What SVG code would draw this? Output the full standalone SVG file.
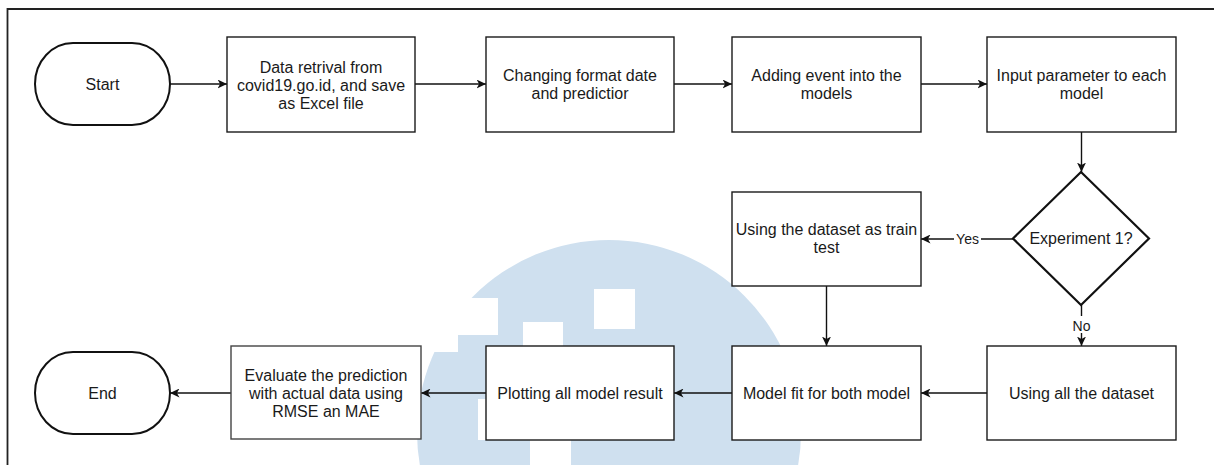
<svg xmlns="http://www.w3.org/2000/svg" width="1214" height="465" viewBox="0 0 1214 465">
  <defs>
    <style>
      .box { fill: #ffffff; stroke: #1a1a1a; stroke-width: 1.4; }
      .term { fill: #ffffff; stroke: #111111; stroke-width: 2; }
      .decision { fill: #ffffff; stroke: #111111; stroke-width: 2.2; }
      .lbl { font-family: "Liberation Sans", Arial, Helvetica, sans-serif; font-size: 16px; fill: #1a1a1a; text-anchor: middle; }
      .edge-lbl { font-family: "Liberation Sans", Arial, Helvetica, sans-serif; font-size: 14px; fill: #1a1a1a; text-anchor: middle; }
      .wire { fill: none; stroke: #111111; stroke-width: 1.4; marker-end: url(#arrow); }
      .frame { fill: none; stroke: #222222; stroke-width: 1.8; }
    </style>
    <marker id="arrow" markerUnits="userSpaceOnUse" markerWidth="10" markerHeight="9" refX="9.5" refY="4.5" orient="auto">
      <path d="M0,0 L9.5,4.5 L0,9 L2.6,4.5 Z" fill="#111111"/>
    </marker>
  </defs>

  <rect width="1214" height="465" fill="#ffffff"/>

  <!-- faint logo mark in the background -->
  <g id="logo-mark">
    <circle cx="609" cy="432" r="192" fill="#cfe0ef"/>
    <g fill="#ffffff">
      <rect x="420" y="298" width="78" height="37"/>
      <rect x="420" y="330" width="38" height="22"/>
      <rect x="523" y="322" width="40" height="60"/>
      <rect x="594" y="289" width="41" height="40"/>
      <rect x="478" y="399" width="40" height="41"/>
      <rect x="530" y="420" width="41" height="45"/>
    </g>
  </g>

  <!-- page frame -->
  <path class="frame" d="M7.5,465 L7.5,9 L1214,9"/>

  <!-- connectors -->
  <g id="connectors">
    <line class="wire" x1="170" y1="84" x2="227" y2="84"/>
    <line class="wire" x1="415" y1="84" x2="486" y2="84"/>
    <line class="wire" x1="674" y1="84" x2="732" y2="84"/>
    <line class="wire" x1="921" y1="84" x2="987" y2="84"/>
    <line class="wire" x1="1081.5" y1="132" x2="1081.5" y2="172"/>
    <line class="wire" x1="1013" y1="239" x2="921" y2="239"/>
    <line class="wire" x1="1081.5" y1="305" x2="1081.5" y2="346"/>
    <line class="wire" x1="826.5" y1="286" x2="826.5" y2="346"/>
    <line class="wire" x1="987" y1="393" x2="921" y2="393"/>
    <line class="wire" x1="732" y1="393" x2="674" y2="393"/>
    <line class="wire" x1="486" y1="393" x2="421" y2="393"/>
    <line class="wire" x1="231" y1="393" x2="170" y2="393"/>
    <!-- edge labels -->
    <rect x="954" y="231" width="27" height="16" fill="#ffffff"/>
    <text class="edge-lbl" x="967.5" y="244">Yes</text>
    <rect x="1070" y="316" width="23" height="17" fill="#ffffff"/>
    <text class="edge-lbl" x="1081.5" y="331">No</text>
  </g>

  <g id="start">
    <rect class="term" x="35" y="43" width="135" height="82" rx="38" ry="41"/>
    <text class="lbl" x="102.5" y="90">Start</text>
  </g>

  <g id="data-retrieval">
    <rect class="box" x="227" y="37" width="188" height="95"/>
    <text class="lbl" x="321" y="72.5">Data retrival from</text>
    <text class="lbl" x="321" y="90.5">covid19.go.id, and save</text>
    <text class="lbl" x="321" y="108.5">as Excel file</text>
  </g>

  <g id="change-format">
    <rect class="box" x="486" y="37" width="188" height="95"/>
    <text class="lbl" x="580" y="80.5">Changing format date</text>
    <text class="lbl" x="580" y="98.5">and predictior</text>
  </g>

  <g id="add-event">
    <rect class="box" x="732" y="37" width="189" height="95"/>
    <text class="lbl" x="826.5" y="80.5">Adding event into the</text>
    <text class="lbl" x="826.5" y="98.5">models</text>
  </g>

  <g id="input-params">
    <rect class="box" x="987" y="37" width="189" height="95"/>
    <text class="lbl" x="1081.5" y="80.5">Input parameter to each</text>
    <text class="lbl" x="1081.5" y="98.5">model</text>
  </g>

  <g id="experiment-1">
    <polygon class="decision" points="1081,172 1149,238.5 1081,305 1013,238.5"/>
    <text class="lbl" x="1081" y="244">Experiment 1?</text>
  </g>

  <g id="train-test">
    <rect class="box" x="732" y="192" width="189" height="94"/>
    <text class="lbl" x="826.5" y="234.5">Using the dataset as train</text>
    <text class="lbl" x="826.5" y="252.5">test</text>
  </g>

  <g id="all-dataset">
    <rect class="box" x="987" y="346" width="189" height="94"/>
    <text class="lbl" x="1081.5" y="398.5">Using all the dataset</text>
  </g>

  <g id="model-fit">
    <rect class="box" x="732" y="346" width="189" height="94"/>
    <text class="lbl" x="826.5" y="398.5">Model fit for both model</text>
  </g>

  <g id="plotting">
    <rect class="box" x="486" y="346" width="188" height="94"/>
    <text class="lbl" x="580" y="398.5">Plotting all model result</text>
  </g>

  <g id="evaluate">
    <rect class="box" x="231" y="346" width="190" height="93" style="stroke:#444444;"/>
    <text class="lbl" x="326" y="381">Evaluate the prediction</text>
    <text class="lbl" x="326" y="399">with actual data using</text>
    <text class="lbl" x="326" y="417">RMSE an MAE</text>
  </g>

  <g id="end">
    <rect class="term" x="35" y="352" width="135" height="82" rx="38" ry="41"/>
    <text class="lbl" x="102.5" y="399">End</text>
  </g>
</svg>
